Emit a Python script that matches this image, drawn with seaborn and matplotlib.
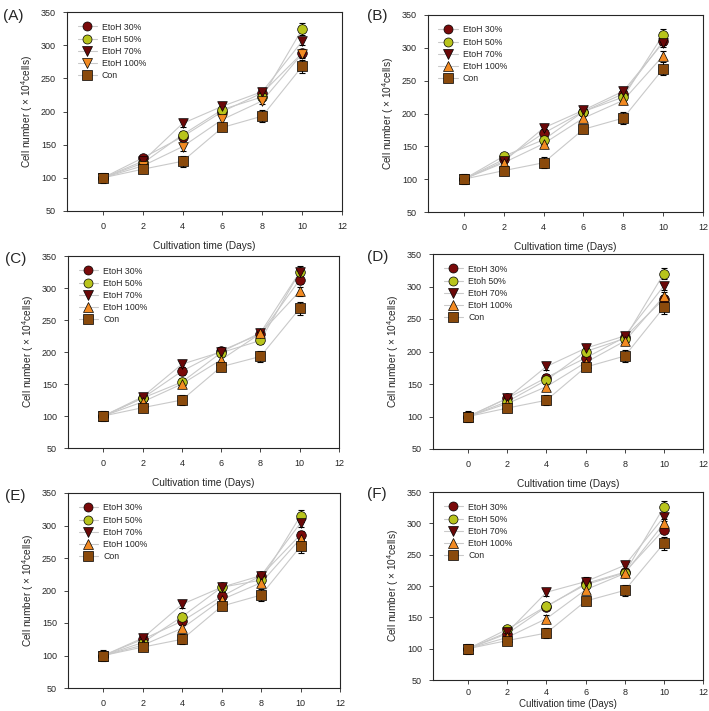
import numpy as np
import pandas as pd
import matplotlib
matplotlib.use("Agg")
import matplotlib.pyplot as plt
from matplotlib.lines import Line2D
import seaborn as sns

days = [0, 2, 4, 6, 8, 10]
groups = ["EtoH 30%", "EtoH 50%", "EtoH 70%", "EtoH 100%", "Con"]

# values (order follows groups)
panel_a = [[100, 130, 162, 200, 228, 288],
           [100, 122, 165, 203, 222, 324],
           [100, 125, 182, 208, 230, 306],
           [100, 118, 147, 188, 216, 287],
           [100, 113, 125, 176, 193, 268]]
panel_b = [[100, 130, 170, 203, 230, 310],
           [100, 135, 160, 203, 225, 320],
           [100, 127, 178, 205, 234, 308],
           [100, 125, 154, 193, 220, 288],
           [100, 113, 125, 176, 193, 268]]
panel_c = [[100, 128, 170, 202, 228, 313],
           [100, 128, 153, 199, 218, 325],
           [100, 130, 181, 200, 230, 325],
           [100, 122, 150, 188, 229, 295],
           [100, 113, 125, 177, 193, 268]]
panel_d = [[100, 128, 160, 190, 222, 281],
           [100, 123, 156, 200, 220, 320],
           [100, 128, 177, 205, 224, 301],
           [100, 120, 146, 183, 216, 285],
           [100, 113, 125, 176, 193, 268]]
panel_e = [[100, 125, 153, 191, 223, 286],
           [100, 120, 160, 205, 216, 315],
           [100, 127, 179, 205, 223, 304],
           [100, 116, 142, 186, 212, 280],
           [100, 113, 125, 176, 193, 268]]
panel_f = [[100, 124, 167, 204, 222, 290],
           [100, 131, 168, 202, 221, 326],
           [100, 126, 190, 207, 233, 310],
           [100, 118, 148, 194, 220, 300],
           [100, 113, 125, 176, 193, 268]]

# error bars (approximate, same for every panel)
err_30 = [3, 5, 6, 6, 5, 6]
err_50 = [3, 5, 6, 5, 5, 9]
err_70 = [3, 5, 6, 7, 6, 6]
err_100 = [3, 5, 6, 5, 5, 7]
err_con = [8, 6, 8, 4, 9, 10]
errs = [err_30, err_50, err_70, err_100, err_con]

panel_letters = ["(A)", "(B)", "(C)", "(D)", "(E)", "(F)"]
panels = [panel_a, panel_b, panel_c, panel_d, panel_e, panel_f]

colors = ["#7a0a0a", "#b8c41c", "#6a0808", "#f28a22", "#8a4a0c"]

sns.set_style("ticks")
plt.rcParams["font.family"] = ["Liberation Sans", "DejaVu Sans"]
plt.rcParams["mathtext.fontset"] = "custom"
plt.rcParams["mathtext.rm"] = "Liberation Sans"
plt.rcParams["mathtext.it"] = "Liberation Sans"

W, H = 709, 711
fig = plt.figure(figsize=(W / 100, H / 100), dpi=100)

# axes boxes in pixels: left, right, top, bottom
boxes = [(67, 342, 12, 211), (428, 703, 15, 212),
         (68, 339, 256, 448), (433, 703, 254, 449),
         (68, 340, 493, 688), (433, 703, 492, 680)]
label_pos = [(3, 16), (367, 16), (5, 259), (367, 257), (5, 496), (367, 494)]

for i, (vals, box) in enumerate(zip(panels, boxes)):
    l, r, t, b = box
    ax = fig.add_axes([l / W, 1 - b / H, (r - l) / W, (b - t) / H])
    names = list(groups)
    markers = ["o", "o", "v", "^", "s"]
    if i == 0:
        markers[3] = "v"
    if i == 3:
        names[1] = "Etoh 50%"
    rows = []
    for g, v in zip(names, vals):
        for d, y in zip(days, v):
            rows.append({"day": d, "cells": y, "group": g})
    df = pd.DataFrame(rows)
    sns.lineplot(data=df, x="day", y="cells", units="group", estimator=None,
                 color="#c9c9c9", lw=0.8, ax=ax, zorder=1, legend=False)
    for j, g in enumerate(names):
        ax.errorbar(days, vals[j], yerr=errs[j], fmt="none", ecolor="black",
                    elinewidth=0.8, capsize=2.5, capthick=0.8, zorder=2)
    for j, g in enumerate(names):
        sub = df[df["group"] == g]
        sns.scatterplot(data=sub, x="day", y="cells", marker=markers[j],
                        color=colors[j], edgecolor="black", linewidth=0.5,
                        s=48, ax=ax, zorder=3, legend=False)
    ax.set_xlim(-1.8, 12)
    ax.set_ylim(50, 350)
    ax.set_xticks([0, 2, 4, 6, 8, 10, 12])
    ax.set_yticks(range(50, 351, 50))
    ax.tick_params(labelsize=6.5, length=3, width=0.6, pad=5)
    for s in ax.spines.values():
        s.set_linewidth(0.8)
    if i == 4:
        ax.set_xlabel("")
    elif i == 5:
        ax.tick_params(axis="x", pad=3)
        ax.set_xlabel("Cultivation time (Days)", fontsize=7, labelpad=1)
    else:
        ax.set_xlabel("Cultivation time (Days)", fontsize=7.3, labelpad=7)
    ax.set_ylabel(r"Cell number ( $\times$ 10$^4$cells)", fontsize=7.3, labelpad=4)
    handles = [Line2D([0], [0], color="#c9c9c9", lw=0.8, marker=markers[j],
                      markerfacecolor=colors[j], markeredgecolor="black",
                      markeredgewidth=0.5, markersize=6.5)
               for j in range(5)]
    ax.legend(handles, names, loc="upper left", frameon=False, fontsize=6.3,
              handlelength=2.2, handletextpad=0.6, labelspacing=0.35,
              borderaxespad=0.8)
    fig.text(label_pos[i][0] / W, 1 - label_pos[i][1] / H, panel_letters[i],
             fontsize=11, va="center", ha="left")

fig.savefig("out.png", dpi=100)
